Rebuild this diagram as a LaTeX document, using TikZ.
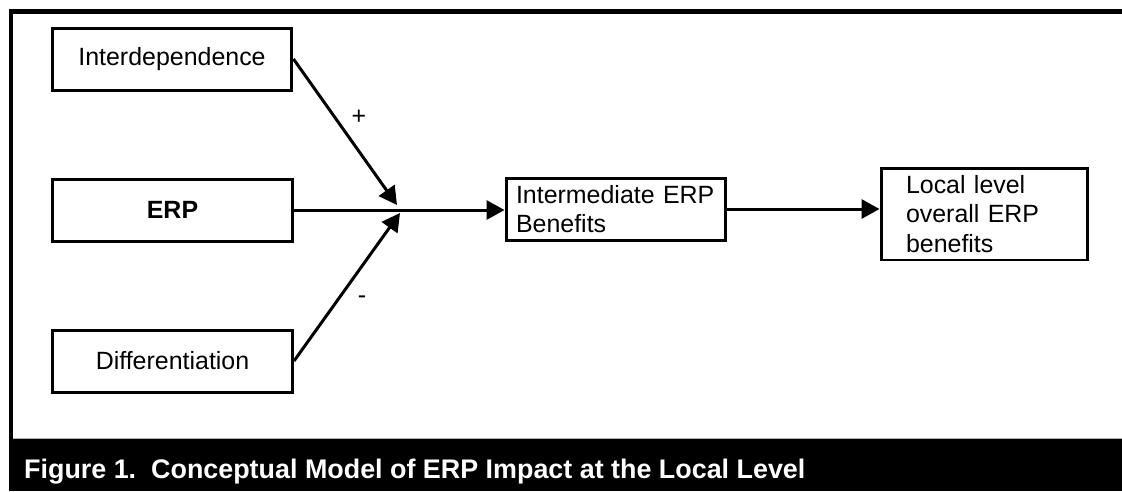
\documentclass[tikz,border=0pt]{standalone}
\usepackage{fontspec}
\setmainfont{Liberation Sans}
\usepackage{xcolor}
\usepackage{tikz}
\usetikzlibrary{arrows.meta}
\usetikzlibrary{calc,positioning}

\tikzset{
    factor/.style={draw, line width=0.06cm, minimum width=4.8cm, minimum height=1.24cm,
        inner sep=0pt, font=\fontsize{14.2}{17}\selectfont},
    result/.style={draw, line width=0.06cm, align=left, inner ysep=0pt,
        font=\fontsize{14.2}{16.8}\selectfont},
    link/.style={line width=0.06cm, -{Triangle[length=0.36cm, width=0.38cm]}},
    sign/.style={font=\fontsize{14.2}{17}\selectfont}
}

\begin{document}
\begin{tikzpicture}[x=0.02cm, y=-0.02cm]

    \useasboundingbox (0,0) rectangle (1122,491);

    % Frame and caption band
    \fill[black] (9,439) rectangle (1122,491);
    \draw[gray!60, line width=0.02cm] (13,438) -- (1122,438);
    \draw[line width=0.09cm] (11,491) -- (11,11.5) -- (1122,11.5);
    \node[anchor=base west, text=white, font=\fontsize{15.3}{18}\selectfont\bfseries] (caption) at (18,478)
        {Figure 1.\ \ Conceptual Model of ERP Impact at the Local Level};

    % Factors
    \node[factor] (inter) at (172,59) {Interdependence};
    \node[factor, font=\fontsize{14.2}{17}\selectfont\bfseries] (erp) at (172.5,210) {ERP};
    \node[factor] (diff) at (172.5,361) {Differentiation};

    % Benefits
    \node[result, text width=4.0cm, minimum width=4.4cm, minimum height=1.24cm, inner xsep=0.2cm] (mid) at (616,209)
        {Intermediate ERP\\Benefits};
    \node[result, text width=3.14cm, minimum width=4.14cm, minimum height=1.84cm, inner xsep=0.5cm] (local) at (984.5,214)
        {Local level\\overall ERP\\benefits};

    % Arrows
    \coordinate (hubU) at (397,205);
    \coordinate (hubD) at (400,213);
    \draw[link] (inter.east) -- (hubU);
    \draw[link] (diff.east) -- (hubD);
    \draw[link] (erp.east) -- (erp.east -| mid.west);
    \draw[link] (mid.east) -- (mid.east -| local.west);

    \node[sign] (plus) at (359,117) {+};
    \node[sign] (minus) at (362,300) {-};

\end{tikzpicture}
\end{document}
